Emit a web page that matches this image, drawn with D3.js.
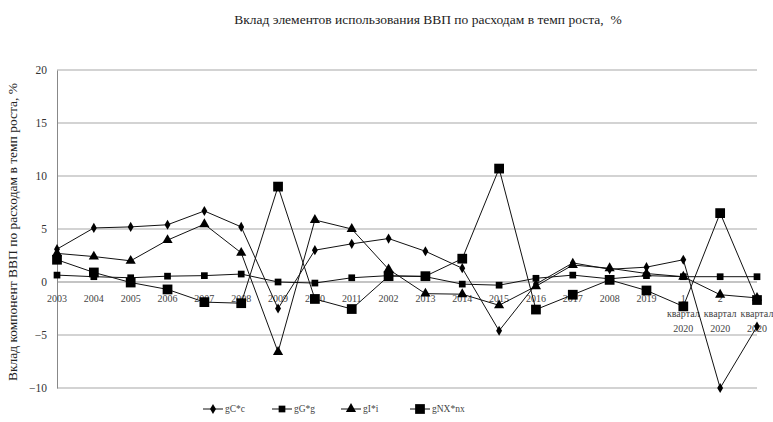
<!DOCTYPE html>
<html>
<head>
<meta charset="utf-8">
<script src="https://cdn.jsdelivr.net/npm/d3@7"></script>
<style>
  body { margin: 0; background: #fff; }
  text { font-family: "Liberation Serif", "DejaVu Serif", serif; }
</style>
</head>
<body>
<div id="chart"></div>
<script>
const labels = ["2003","2004","2005","2006","2007","2008","2009","2010","2011","2002",
  "2013","2014","2015","2016","2017","2008","2019",
  "1 квартал 2020","2 квартал 2020","3 квартал 2020"];

const gC = [3.1, 5.1, 5.2, 5.4, 6.7, 5.2, -2.5, 3.0, 3.6, 4.1, 2.9, 1.3, -4.6, -0.2, 1.8, 1.2, 1.4, 2.1, -10.0, -4.2];
const gG = [0.65, 0.5, 0.4, 0.55, 0.6, 0.75, 0.0, -0.1, 0.4, 0.6, 0.5, -0.2, -0.3, 0.35, 0.65, 0.3, 0.6, 0.5, 0.5, 0.5];
const gI = [2.7, 2.4, 2.0, 3.95, 5.45, 2.75, -6.6, 5.85, 5.0, 1.2, -1.1, -1.15, -2.2, -0.4, 1.6, 1.3, 0.8, 0.5, -1.2, -1.5];
const gNX = [2.1, 0.9, -0.05, -0.7, -1.9, -2.0, 9.0, -1.6, -2.55, 0.55, 0.55, 2.2, 10.7, -2.6, -1.2, 0.2, -0.8, -2.3, 6.5, -1.7];

const yTicks = [-10, -5, 0, 5, 10, 15, 20];

const series = [
  { name: "gC*c", values: gC, symbol: d3.symbolDiamond, size: 30 },
  { name: "gG*g", values: gG, symbol: d3.symbolSquare, size: 45 },
  { name: "gI*i", values: gI, symbol: d3.symbolTriangle, size: 45 },
  { name: "gNX*nx", values: gNX, symbol: d3.symbolSquare, size: 95 }
];

const width = 773, height = 422;

const svg = d3.select("#chart")
  .append("svg")
  .attr("width", width)
  .attr("height", height);

const x = d3.scalePoint()
  .domain(d3.range(labels.length))
  .range([57, 757]);

const y = d3.scaleLinear()
  .domain([-10, 20])
  .range([388, 70]);

svg.append("text")
  .attr("x", 428)
  .attr("y", 24)
  .attr("text-anchor", "middle")
  .attr("xml:space", "preserve")
  .style("font-size", "13.5px")
  .style("white-space", "pre")
  .attr("fill", "#222")
  .text("Вклад элементов использования ВВП по расходам в темп роста,  %");

// grid lines
svg.append("g")
  .selectAll("line")
  .data(yTicks)
  .enter()
  .append("line")
  .attr("x1", 57)
  .attr("x2", 757)
  .attr("y1", d => y(d))
  .attr("y2", d => y(d))
  .attr("stroke", d => d === 0 ? "#8a8a8a" : "#a8a8a8")
  .attr("stroke-width", 1.2);

const yAxis = svg.append("g")
  .attr("transform", "translate(57,0)")
  .call(d3.axisLeft(y).tickValues(yTicks).tickSize(0).tickPadding(10));
yAxis.select(".domain").attr("stroke", "#888");
yAxis.selectAll("text").style("font-size", "11.5px").attr("fill", "#333");

svg.append("text")
  .attr("transform", "translate(17,232) rotate(-90)")
  .attr("text-anchor", "middle")
  .style("font-size", "13.5px")
  .attr("fill", "#222")
  .text("Вклад компонент ВВП по расходам в темп роста, %");

// x labels sit under the zero line
const xLab = svg.append("g")
  .selectAll("text")
  .data(d3.range(labels.length))
  .enter()
  .append("text")
  .attr("x", d => x(d))
  .attr("y", y(0) + 20)
  .attr("text-anchor", "middle")
  .style("font-size", "10px")
  .attr("fill", "#444");

xLab.each(function (d) {
  const parts = labels[d].split(" ");
  const t = d3.select(this);
  parts.forEach((p, i) => {
    t.append("tspan")
      .attr("x", x(d))
      .attr("dy", i === 0 ? 0 : 15)
      .text(p);
  });
});

const line = d3.line()
  .x((d, i) => x(i))
  .y(d => y(d));

for (const s of series) {
  svg.append("path")
    .datum(s.values)
    .attr("d", line)
    .attr("fill", "none")
    .attr("stroke", "#111")
    .attr("stroke-width", 1);
}

for (const s of series) {
  svg.append("g")
    .selectAll("path")
    .data(s.values)
    .enter()
    .append("path")
    .attr("d", d3.symbol().type(s.symbol).size(s.size))
    .attr("transform", (d, i) => `translate(${x(i)},${y(d)})`)
    .attr("fill", "#000");
}

// legend
const legend = svg.append("g")
  .selectAll("g")
  .data(series)
  .enter()
  .append("g")
  .attr("transform", (d, i) => `translate(${203 + i * 69},409)`);

legend.append("line")
  .attr("x1", 0)
  .attr("x2", 20)
  .attr("stroke", "#111");

legend.append("path")
  .attr("d", d => d3.symbol().type(d.symbol).size(d.size)())
  .attr("transform", "translate(10,0)")
  .attr("fill", "#000");

legend.append("text")
  .attr("x", 22)
  .attr("y", 3)
  .style("font-size", "9.5px")
  .attr("fill", "#444")
  .text(d => d.name);
</script>
</body>
</html>
